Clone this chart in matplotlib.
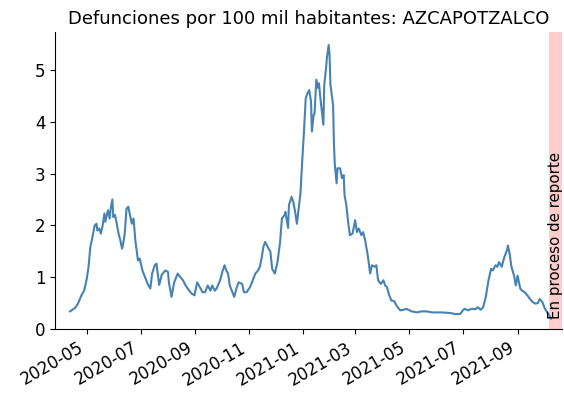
import numpy as np
import pandas as pd
import matplotlib
matplotlib.use("Agg")
import matplotlib.pyplot as plt
import matplotlib.dates as mdates

# daily death rate per 100k
dates = [
    "2020-04-12", "2020-04-18", "2020-04-21", "2020-04-25", "2020-04-28", "2020-05-01",
    "2020-05-03", "2020-05-05", "2020-05-07", "2020-05-10", "2020-05-12", "2020-05-13",
    "2020-05-15", "2020-05-17", "2020-05-19", "2020-05-21", "2020-05-22", "2020-05-25",
    "2020-05-27", "2020-05-28", "2020-05-30", "2020-05-31", "2020-06-02", "2020-06-04",
    "2020-06-06", "2020-06-08", "2020-06-10", "2020-06-11", "2020-06-13", "2020-06-15",
    "2020-06-17", "2020-06-19", "2020-06-21", "2020-06-23", "2020-06-25", "2020-06-26",
    "2020-06-28", "2020-06-30", "2020-07-03", "2020-07-06", "2020-07-09", "2020-07-12",
    "2020-07-14", "2020-07-17", "2020-07-19", "2020-07-22", "2020-07-25", "2020-07-29",
    "2020-08-01", "2020-08-02", "2020-08-05", "2020-08-08", "2020-08-12", "2020-08-15",
    "2020-08-18", "2020-08-21", "2020-08-25", "2020-08-28", "2020-08-31", "2020-09-03",
    "2020-09-06", "2020-09-09", "2020-09-12", "2020-09-15", "2020-09-18", "2020-09-20",
    "2020-09-23", "2020-09-25", "2020-09-29", "2020-10-02", "2020-10-04", "2020-10-06",
    "2020-10-08", "2020-10-10", "2020-10-13", "2020-10-15", "2020-10-18", "2020-10-20",
    "2020-10-24", "2020-10-26", "2020-10-29", "2020-11-02", "2020-11-05", "2020-11-08",
    "2020-11-11", "2020-11-13", "2020-11-15", "2020-11-17", "2020-11-19", "2020-11-23",
    "2020-11-25", "2020-11-27", "2020-11-30", "2020-12-03", "2020-12-06", "2020-12-08",
    "2020-12-11", "2020-12-12", "2020-12-15", "2020-12-16", "2020-12-19", "2020-12-21",
    "2020-12-23", "2020-12-25", "2020-12-27", "2020-12-29", "2020-12-31", "2021-01-02",
    "2021-01-04", "2021-01-06", "2021-01-08", "2021-01-10", "2021-01-11", "2021-01-13",
    "2021-01-14", "2021-01-16", "2021-01-18", "2021-01-19", "2021-01-21", "2021-01-24",
    "2021-01-25", "2021-01-27", "2021-01-28", "2021-01-30", "2021-01-31", "2021-02-01",
    "2021-02-04", "2021-02-05", "2021-02-06", "2021-02-08", "2021-02-09", "2021-02-12",
    "2021-02-14", "2021-02-16", "2021-02-17", "2021-02-19", "2021-02-21", "2021-02-23",
    "2021-02-26", "2021-03-01", "2021-03-03", "2021-03-05", "2021-03-08", "2021-03-10",
    "2021-03-12", "2021-03-15", "2021-03-18", "2021-03-20", "2021-03-23", "2021-03-25",
    "2021-03-27", "2021-03-30", "2021-04-02", "2021-04-04", "2021-04-06", "2021-04-08",
    "2021-04-11", "2021-04-14", "2021-04-17", "2021-04-21", "2021-04-25", "2021-04-28",
    "2021-05-04", "2021-05-10", "2021-05-15", "2021-05-21", "2021-05-27", "2021-06-07",
    "2021-06-16", "2021-06-22", "2021-06-28", "2021-07-01", "2021-07-03", "2021-07-07",
    "2021-07-11", "2021-07-15", "2021-07-18", "2021-07-21", "2021-07-24", "2021-07-27",
    "2021-07-30", "2021-08-02", "2021-08-04", "2021-08-07", "2021-08-09", "2021-08-11",
    "2021-08-14", "2021-08-17", "2021-08-20", "2021-08-21", "2021-08-23", "2021-08-25",
    "2021-08-28", "2021-08-30", "2021-09-01", "2021-09-04", "2021-09-06", "2021-09-09",
    "2021-09-12", "2021-09-15", "2021-09-18", "2021-09-21", "2021-09-24", "2021-09-26",
    "2021-09-29", "2021-10-02", "2021-10-05", "2021-10-07", "2021-10-09",
]
rate = [
    0.34, 0.41, 0.49, 0.65, 0.74, 0.97,
    1.20, 1.58, 1.74, 2.00, 2.03, 1.90,
    1.94, 1.84, 2.00, 2.23, 2.07, 2.29,
    2.13, 2.32, 2.50, 2.16, 2.20, 2.03,
    1.84, 1.71, 1.55, 1.62, 1.84, 2.32,
    2.36, 2.20, 2.03, 2.13, 1.71, 1.58,
    1.32, 1.36, 1.13, 1.00, 0.87, 0.78,
    1.07, 1.23, 1.26, 0.85, 1.05, 1.13,
    1.10, 0.90, 0.62, 0.90, 1.07, 1.00,
    0.94, 0.84, 0.74, 0.68, 0.65, 0.90,
    0.81, 0.71, 0.71, 0.84, 0.74, 0.84,
    0.74, 0.78, 0.94, 1.13, 1.23, 1.13,
    1.07, 0.84, 0.71, 0.62, 0.81, 0.90,
    0.87, 0.71, 0.71, 0.81, 0.94, 1.07,
    1.13, 1.20, 1.36, 1.58, 1.68, 1.55,
    1.49, 1.16, 1.07, 1.29, 1.68, 2.13,
    2.20, 2.26, 1.95, 2.39, 2.55, 2.45,
    2.26, 2.03, 2.32, 2.61, 3.23, 3.81,
    4.45, 4.55, 4.61, 4.39, 3.81, 4.13,
    4.16, 4.81, 4.65, 4.74, 4.39, 3.94,
    4.71, 5.03, 5.23, 5.48, 5.29, 4.71,
    4.32, 3.55, 3.16, 2.81, 3.10, 3.10,
    2.91, 2.97, 2.58, 2.39, 2.07, 1.81,
    1.84, 2.10, 1.87, 1.94, 1.81, 1.87,
    1.74, 1.45, 1.07, 1.23, 1.20, 1.23,
    0.94, 0.87, 0.94, 0.84, 0.81, 0.68,
    0.55, 0.54, 0.45, 0.36, 0.37, 0.39,
    0.34, 0.32, 0.34, 0.34, 0.32, 0.32,
    0.31, 0.29, 0.29, 0.36, 0.39, 0.36,
    0.39, 0.38, 0.42, 0.37, 0.42, 0.62,
    0.94, 1.16, 1.13, 1.23, 1.20, 1.29,
    1.20, 1.39, 1.52, 1.61, 1.45, 1.20,
    1.03, 0.84, 1.03, 0.78, 0.74, 0.71,
    0.65, 0.58, 0.52, 0.49, 0.50, 0.58,
    0.52, 0.39, 0.31, 0.26, 0.20,
]

titulo = "Defunciones por 100 mil habitantes: AZCAPOTZALCO"
reporte_ini = "2021-10-07"
reporte_fin = "2021-10-21"
x_ini = "2020-03-26"

fechas = pd.to_datetime(dates)

fig = plt.figure(figsize=(5.64, 4.0), dpi=100)
ax = fig.add_axes([0.0975, 0.1775, 0.8985, 0.7425])

ax.plot(fechas, rate, color="steelblue", lw=1.5)
ax.axvspan(pd.Timestamp(reporte_ini), pd.Timestamp(reporte_fin), color="red", alpha=0.2, lw=0)
ax.text(pd.Timestamp(reporte_ini) + pd.Timedelta(days=7), 0.2, "En proceso de reporte",
        rotation=90, ha="center", va="bottom", fontsize=10.8)

ax.set_xlim(pd.Timestamp(x_ini), pd.Timestamp(reporte_fin))
ax.set_ylim(0, 5.73)
ax.set_title(titulo, fontsize=13)

ax.xaxis.set_major_locator(mdates.MonthLocator(bymonth=[1, 3, 5, 7, 9, 11]))
ax.xaxis.set_major_formatter(mdates.DateFormatter("%Y-%m"))
ax.tick_params(labelsize=12)
for lbl in ax.get_xticklabels():
    lbl.set_rotation(30)
    lbl.set_ha("right")

ax.spines["top"].set_visible(False)
ax.spines["right"].set_visible(False)

fig.savefig("out.png", dpi=100)
